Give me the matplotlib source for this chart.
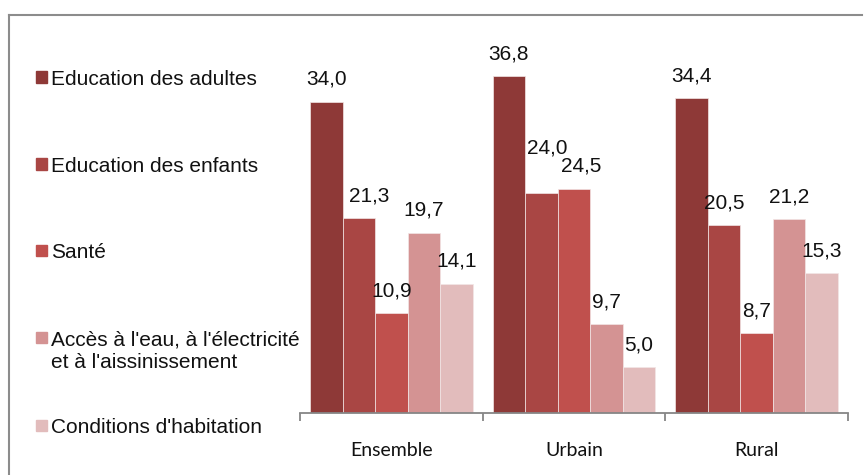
import matplotlib.pyplot as plt
import numpy as np
from matplotlib.lines import Line2D
from matplotlib.patches import Rectangle

# data
categories = ['Ensemble', 'Urbain', 'Rural']
series_names = ['Education des adultes', 'Education des enfants', 'Santé',
                "Accès à l'eau, à l'électricité\net à l'aissinissement",
                "Conditions d'habitation"]
adultes = [34.0, 36.8, 34.4]
enfants = [21.3, 24.0, 20.5]
sante = [10.9, 24.5, 8.7]
eau = [19.7, 9.7, 21.2]
habitation = [14.1, 5.0, 15.3]

colors = ['#8E3937', '#A94644', '#C0504D', '#D49393', '#E2BCBC']

# excel pushes a few labels aside to avoid overlaps (px nudges)
label_nudge = {(0, 1): (10, 0), (1, 1): (6, 23), (1, 2): (7, 0)}

plt.rcParams['font.family'] = ['Liberation Sans', 'DejaVu Sans']

W, H = 865, 475
fig = plt.figure(figsize=(W / 100, H / 100), dpi=100)
ax = fig.add_axes([300 / W, 62 / H, 548 / W, 366 / H])

all_series = [adultes, enfants, sante, eau, habitation]
x = np.arange(len(categories))
bw = 0.89 / len(all_series)

for i, vals in enumerate(all_series):
    pos = x + (i - 2) * bw
    ax.bar(pos, vals, width=bw, color=colors[i], edgecolor='#F2E6E6', linewidth=0.5)
    for j, v in enumerate(vals):
        dx, dy = label_nudge.get((j, i), (0, 0))
        ax.annotate(f'{v:.1f}'.replace('.', ','), (pos[j], v),
                    xytext=(dx * 0.72, (17 + dy) * 0.72), textcoords='offset points',
                    ha='center', va='baseline', fontsize=15, color='#111111')

ax.set_xlim(-0.5, 2.5)
ax.set_ylim(0, 40)
for s in ['top', 'right', 'left']:
    ax.spines[s].set_visible(False)
ax.spines['bottom'].set_color('#868686')
ax.spines['bottom'].set_linewidth(1.3)
ax.set_yticks([])

ax.set_xticks(x)
ax.set_xticklabels(categories, fontfamily='Lato', fontsize=14, color='#111111')
ax.tick_params(axis='x', which='major', length=0, pad=21)
ax.set_xticks([-0.5, 0.5, 1.5, 2.5], minor=True)
ax.tick_params(axis='x', which='minor', length=6, width=1.3, color='#868686')

# legend drawn by hand, left of the plot
legend_y = [77, 164, 250, 337, 425]
for i, name in enumerate(series_names):
    yc = legend_y[i]
    fig.patches.append(Rectangle((36 / W, 1 - (yc + 5.5) / H), 11 / W, 11 / H,
                                 transform=fig.transFigure, color=colors[i], figure=fig))
    for k, line in enumerate(name.split('\n')):
        fig.text(51 / W, 1 - (yc + 8 + 23 * k) / H, line, fontsize=15, color='#111111',
                 va='baseline', ha='left')

# chart frame
frame_kw = dict(transform=fig.transFigure, color='#8C8C8C', linewidth=1.5)
fig.lines.append(Line2D([9 / W, 862 / W], [1 - 15 / H, 1 - 15 / H], **frame_kw))
fig.lines.append(Line2D([9 / W, 9 / W], [1 - 15 / H, 0], **frame_kw))

plt.savefig('out.png', dpi=100)
